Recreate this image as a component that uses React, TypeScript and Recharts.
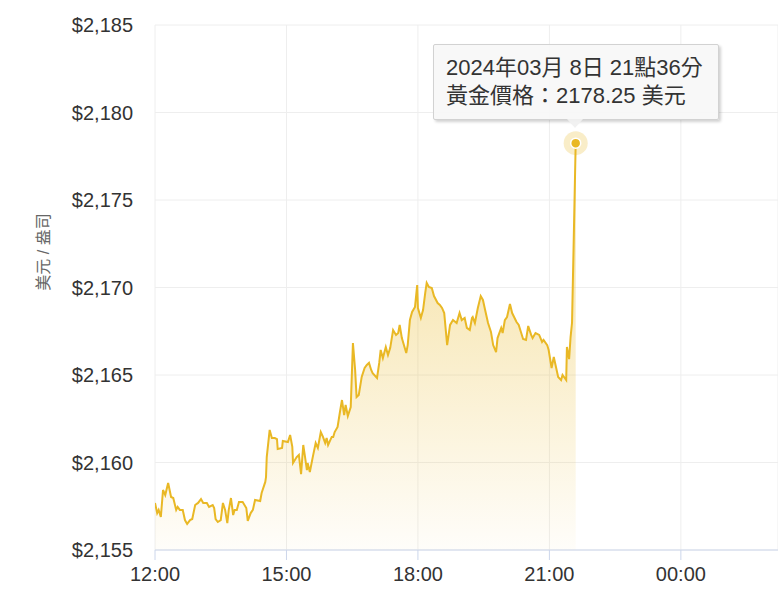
import { Area, AreaChart, CartesianGrid, Tooltip, XAxis, YAxis } from "recharts";

// minutes after 12:00 on 2024-03-08, and gold price (USD / oz)
const minutes = [
  0, 3, 5, 8, 11, 14, 18, 22, 25, 29, 31, 34, 38, 41, 44, 48, 51, 55, 59, 63,
  66, 71, 74, 79, 81, 83, 86, 90, 93, 96, 99, 101, 104, 107, 109, 112, 115, 120, 125, 127,
  131, 134, 137, 144, 146, 151, 152, 153, 157, 160, 164, 167, 168, 174, 175, 182, 185, 188, 189, 194,
  197, 200, 203, 205, 208, 209, 212, 216, 220, 223, 227, 230, 233, 235, 237, 242, 244, 246, 250, 253,
  256, 259, 261, 264, 268, 271, 274, 276, 279, 283, 287, 290, 293, 296, 298, 304, 307, 309, 312, 316,
  319, 322, 326, 330, 333, 335, 338, 344, 346, 349, 352, 356, 359, 360, 364, 367, 370, 372, 375, 379,
  382, 387, 390, 393, 396, 400, 404, 408, 413, 417, 420, 424, 427, 431, 434, 435, 438, 442, 446, 449,
  452, 456, 460, 463, 467, 469, 474, 476, 479, 482, 486, 489, 491, 495, 498, 501, 504, 508, 511, 515,
  517, 521, 526, 530, 532, 537, 539, 543, 546, 549, 552, 556, 558, 563, 564, 567, 569, 571, 576,
];

const prices = [
  2157.69, 2157.11, 2157.29, 2156.89, 2158.43, 2158.14, 2158.83, 2158.03, 2157.97, 2157.29,
  2157.46, 2157.29, 2157.29, 2156.71, 2156.49, 2156.71, 2156.77, 2157.57, 2157.69, 2157.91,
  2157.69, 2157.69, 2157.46, 2157.57, 2157.4, 2156.77, 2156.6, 2156.71, 2157.69, 2157.29,
  2156.54, 2157.29, 2157.97, 2157.0, 2157.29, 2157.29, 2157.74, 2157.74, 2157.4, 2156.66,
  2157.11, 2157.29, 2157.86, 2157.8, 2158.26, 2158.89, 2159.17, 2160.31, 2161.86, 2161.4,
  2161.4, 2161.34, 2160.77, 2160.83, 2161.23, 2161.17, 2161.57, 2160.89, 2159.97, 2160.31,
  2160.43, 2159.34, 2161.0, 2160.43, 2159.57, 2159.97, 2159.46, 2160.31, 2161.11, 2160.83,
  2161.74, 2161.46, 2161.11, 2161.4, 2161.0, 2161.46, 2161.46, 2161.74, 2162.03, 2162.83,
  2163.57, 2162.71, 2163.29, 2162.66, 2163.17, 2166.83, 2165.29, 2163.74, 2163.86, 2164.89,
  2165.4, 2165.57, 2165.69, 2165.29, 2165.11, 2164.83, 2165.69, 2166.43, 2165.97, 2166.6,
  2166.14, 2166.54, 2167.57, 2167.29, 2167.4, 2167.86, 2167.11, 2166.26, 2166.71, 2168.14,
  2168.6, 2168.89, 2170.14, 2168.83, 2168.26, 2168.71, 2169.69, 2170.26, 2170.03, 2169.97,
  2169.51, 2169.11, 2169.0, 2168.83, 2168.54, 2166.71, 2167.86, 2168.14, 2167.97, 2168.54,
  2168.14, 2168.26, 2167.69, 2167.57, 2168.26, 2168.31, 2167.97, 2168.83, 2169.51, 2169.29,
  2168.71, 2167.97, 2167.46, 2166.71, 2166.31, 2167.11, 2167.69, 2167.4, 2168.14, 2168.31,
  2169.06, 2168.54, 2168.37, 2168.03, 2167.86, 2167.46, 2167.06, 2167.0, 2167.8, 2167.29,
  2167.11, 2167.4, 2167.29, 2166.89, 2167.0, 2166.71, 2166.43, 2165.4, 2166.03, 2165.46,
  2164.89, 2164.71, 2165.0, 2164.71, 2166.6, 2165.91, 2167.17, 2168.0, 2178.25,
];

const xTicks = [0, 180, 360, 540, 720];
const xTickLabels = ["12:00", "15:00", "18:00", "21:00", "00:00"];
const yTicks = [2155, 2160, 2165, 2170, 2175, 2180, 2185];

const data = minutes.map((m, i) => ({ t: m, price: prices[i] }));

const gold = "#e9b825";
const font = "'Liberation Sans', Arial, 'Noto Sans CJK TC', sans-serif";

const pad = (n: number) => String(n).padStart(2, "0");

function PriceTip({ active, payload }: any) {
  if (!active || !payload || !payload.length) return null;
  const p = payload[0].payload;
  const h = (12 + Math.floor(p.t / 60)) % 24;
  const m = p.t % 60;
  return (
    <div style={{ position: "relative" }}>
      <div
        style={{
          background: "rgba(247,247,247,0.92)",
          border: "1px solid #d2d2d2",
          borderRadius: 2,
          boxShadow: "2px 2px 3px rgba(0,0,0,0.18)",
          padding: "9px 15px 9px 12px",
          fontFamily: font,
          fontSize: 22,
          lineHeight: "28px",
          color: "#333",
          whiteSpace: "nowrap",
        }}
      >
        <div>{`2024年03月 8日 ${pad(h)}點${pad(m)}分`}</div>
        <div>{`黃金價格：${p.price.toFixed(2)} 美元`}</div>
      </div>
      <div
        style={{
          position: "absolute",
          left: 134,
          bottom: -8,
          width: 0,
          height: 0,
          borderLeft: "8px solid transparent",
          borderRight: "8px solid transparent",
          borderTop: "9px solid rgba(240,240,240,0.95)",
        }}
      />
    </div>
  );
}

function HaloDot(props: any) {
  const { cx, cy } = props;
  return (
    <g>
      <circle cx={cx} cy={cy} r={12} fill={gold} fillOpacity={0.25} />
      <circle cx={cx} cy={cy} r={5} fill={gold} stroke="#fff" strokeWidth={1.5} />
    </g>
  );
}

export default function App() {
  return (
    <div style={{ position: "absolute", left: 0, top: 0, background: "#fff" }}>
      <AreaChart
        width={778}
        height={606}
        data={data}
        margin={{ top: 25, right: 0, bottom: 0, left: 0 }}
      >
        <defs>
          <linearGradient id="goldFill" x1="0" y1="0" x2="0" y2="1">
            <stop offset="0%" stopColor={gold} stopOpacity={0.8} />
            <stop offset="100%" stopColor={gold} stopOpacity={0.04} />
          </linearGradient>
        </defs>
        <CartesianGrid stroke="#eeeeee" />
        <XAxis
          dataKey="t"
          type="number"
          domain={[0, 853]}
          ticks={xTicks}
          tickFormatter={(v) => xTickLabels[xTicks.indexOf(v)]}
          height={56}
          stroke="#ccd6eb"
          tickSize={10}
          tickMargin={7}
          tick={{ fill: "#333", fontSize: 20, fontFamily: font }}
          allowDataOverflow
        />
        <YAxis
          type="number"
          domain={[2155, 2185]}
          ticks={yTicks}
          width={155}
          axisLine={false}
          tickLine={false}
          tickSize={0}
          tickMargin={22}
          tick={{ fill: "#333", fontSize: 20, fontFamily: font }}
          tickFormatter={(v) => "$" + v.toLocaleString("en-US")}
          label={{
            content: () => (
              <text
                x={43}
                y={252}
                transform="rotate(-90 43 252)"
                textAnchor="middle"
                dominantBaseline="central"
                fill="#666"
                fontSize={16}
                fontFamily={font}
              >
                美元 / 盎司
              </text>
            ),
          }}
        />
        <Tooltip
          content={<PriceTip />}
          defaultIndex={data.length - 1}
          active
          cursor={false}
          position={{ x: 433, y: 44 }}
          isAnimationActive={false}
          wrapperStyle={{ outline: "none" }}
        />
        <Area
          type="linear"
          dataKey="price"
          stroke={gold}
          strokeWidth={2}
          fill="url(#goldFill)"
          dot={false}
          activeDot={<HaloDot />}
          isAnimationActive={false}
        />
      </AreaChart>
    </div>
  );
}
